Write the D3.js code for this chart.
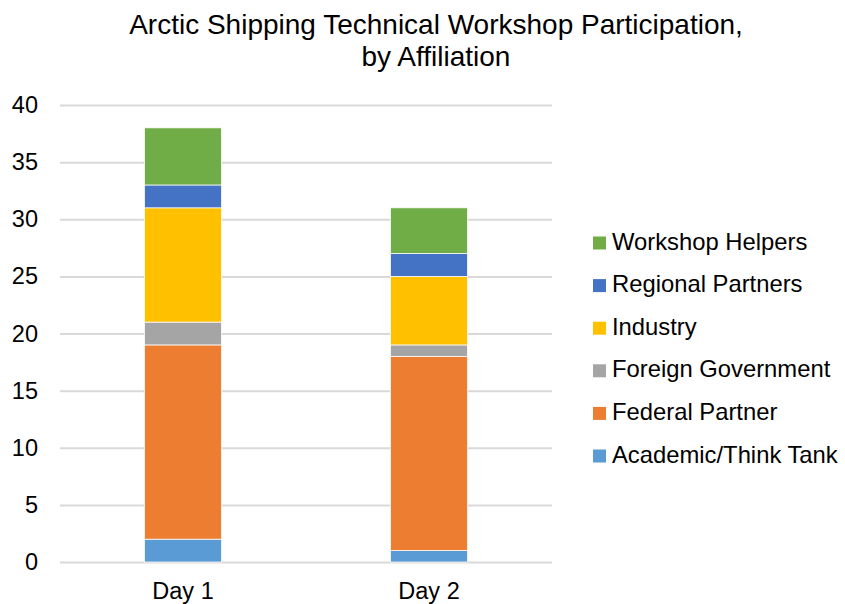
<!DOCTYPE html>
<html>
<head>
<meta charset="utf-8">
<script src="https://cdn.jsdelivr.net/npm/d3@7"></script>
<style>
  html, body { margin: 0; padding: 0; background: #fff; }
  svg { display: block; font-family: "Liberation Sans", Arial, sans-serif; }
</style>
</head>
<body>
<svg id="chart" width="845" height="604"></svg>
<script>
// Participants per day, broken down by affiliation
const days = ["Day 1", "Day 2"];
const affiliations = ["Academic/Think Tank", "Federal Partner", "Foreign Government", "Industry", "Regional Partners", "Workshop Helpers"];
const academic = [2, 1];
const federal = [17, 17];
const foreign = [2, 1];
const industry = [10, 6];
const regional = [2, 2];
const helpers = [5, 4];
const colors = ["#5B9BD5", "#ED7D31", "#A5A5A5", "#FFC000", "#4472C4", "#70AD47"];
const yTicks = [0, 5, 10, 15, 20, 25, 30, 35, 40];
const titleLines = ["Arctic Shipping Technical Workshop Participation,", "by Affiliation"];

const seriesValues = [academic, federal, foreign, industry, regional, helpers];
const rows = days.map((d, i) => {
  const r = { day: d };
  affiliations.forEach((a, k) => { r[a] = seriesValues[k][i]; });
  return r;
});

const svg = d3.select("#chart");
const plot = { left: 60, right: 552, top: 105, bottom: 562 };
const labelFont = "Liberation Sans, Arial, sans-serif";

const x = d3.scaleBand().domain(days).range([plot.left, plot.right])
  .paddingInner(0.687).paddingOuter(0.3435);
const y = d3.scaleLinear().domain([0, 40]).range([plot.bottom, plot.top]);
const color = d3.scaleOrdinal().domain(affiliations).range(colors);

// Title
svg.append("g").selectAll("text").data(titleLines).join("text")
  .attr("x", 436).attr("y", (d, i) => 34 + i * 32)
  .attr("text-anchor", "middle")
  .attr("font-size", 28).attr("fill", "#000")
  .text(d => d);

// Gridlines and y-axis labels
const yAxis = d3.axisLeft(y).tickValues(yTicks).tickSize(-(plot.right - plot.left)).tickPadding(22);
const gy = svg.append("g").attr("transform", `translate(${plot.left},0)`).call(yAxis);
gy.select(".domain").remove();
gy.selectAll(".tick line").attr("stroke", "#d9d9d9").attr("stroke-width", 2);
gy.selectAll(".tick text").attr("font-size", 23.5).attr("fill", "#000")
  .attr("font-family", labelFont);

// Stacked bars
const stack = d3.stack().keys(affiliations)(rows);
svg.append("g").selectAll("g").data(stack).join("g")
  .attr("fill", d => color(d.key))
  .selectAll("rect").data(d => d).join("rect")
  .attr("x", d => x(d.data.day))
  .attr("width", x.bandwidth())
  .attr("y", d => y(d[1]))
  .attr("height", d => y(d[0]) - y(d[1]))
  .attr("stroke", "#fff").attr("stroke-width", 0.75);

// Category labels
const xAxis = d3.axisBottom(x).tickSize(0).tickPadding(20);
const gx = svg.append("g").attr("transform", `translate(0,${plot.bottom})`).call(xAxis);
gx.select(".domain").remove();
gx.selectAll(".tick text").attr("font-size", 23.5).attr("fill", "#000")
  .attr("font-family", labelFont);

// Legend, top entry is the top of the stack
const legendItems = affiliations.slice().reverse();
const legend = svg.append("g").selectAll("g").data(legendItems).join("g")
  .attr("transform", (d, i) => `translate(593,${243 + i * 42.6})`);
legend.append("rect").attr("x", 0).attr("y", -6.5).attr("width", 13).attr("height", 13)
  .attr("fill", d => color(d));
legend.append("text").attr("x", 19).attr("y", 6.5)
  .attr("font-size", 23.8).attr("fill", "#000").text(d => d);
</script>
</body>
</html>
